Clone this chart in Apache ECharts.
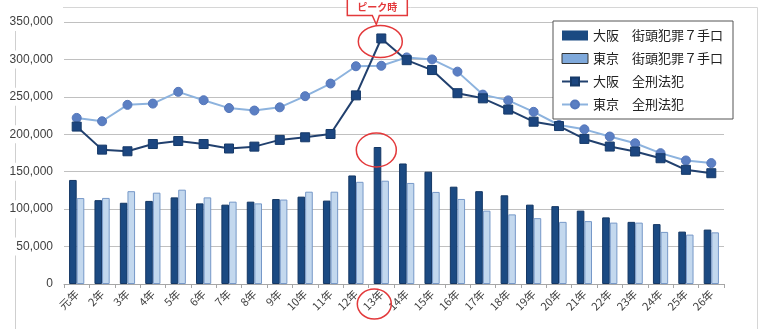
<!DOCTYPE html>
<html lang="ja">
<head>
<meta charset="utf-8">
<title>街頭犯罪７手口・全刑法犯 認知件数の推移</title>
<script src="https://cdn.jsdelivr.net/npm/echarts@6/dist/echarts.min.js"></script>
<style>
  html, body { margin: 0; padding: 0; background: #fff; }
  #chart { width: 765px; height: 329px; }
</style>
</head>
<body>
<div id="chart"></div>
<script>
// 平成 元年〜26年
const years = ['元年','2年','3年','4年','5年','6年','7年','8年','9年','10年','11年','12年','13年',
  '14年','15年','16年','17年','18年','19年','20年','21年','22年','23年','24年','25年','26年'];

// 街頭犯罪７手口（棒）
const osakaStreet = [139000,112000,108500,111000,115700,107700,106000,110000,113500,116700,111400,145000,183000,
  161000,150000,130000,124000,118500,106000,104000,98000,89000,83000,80000,70000,72700];
const tokyoStreet = [114800,115000,124000,122000,126000,115700,110000,107700,112800,123300,123300,136500,138000,
  135000,123000,113600,98000,93000,88000,83000,84000,82000,82000,69600,66000,69000];

// 全刑法犯（折れ線）
const osakaAll = [210300,179500,177300,187000,191000,187000,181000,183500,192500,196000,200400,252000,328000,
  299000,285800,254900,248000,233000,216800,211000,193800,183600,177000,168000,152500,148000];
const tokyoAll = [221900,217400,239300,241000,256700,245500,235000,231700,236000,250900,267800,290900,291500,
  302700,300000,283700,253000,245300,230000,212400,206600,197000,188000,174800,165000,161500];

const yTicks = { min: 0, max: 350000, step: 50000 };
const peakYear = '13年';
const peakText = 'ピーク時';

const seriesNames = ['大阪　街頭犯罪７手口', '東京　街頭犯罪７手口', '大阪　全刑法犯', '東京　全刑法犯'];

const cjk = '"Noto Sans CJK JP", "Noto Sans", sans-serif';
const withCommas = v => String(v).replace(/\B(?=(\d{3})+(?!\d))/g, ',');

const chart = echarts.init(document.getElementById('chart'), null, { renderer: 'canvas' });

chart.setOption({
  animation: false,
  backgroundColor: '#ffffff',
  grid: { left: 64, right: 41, top: 22, bottom: 45 },
  legend: {
    orient: 'vertical',
    left: 553,
    top: 21,
    padding: [8, 10, 8, 8],
    itemGap: 10,
    itemWidth: 26,
    itemHeight: 10,
    backgroundColor: '#ffffff',
    borderColor: '#555555',
    borderWidth: 1,
    textStyle: { fontFamily: cjk, fontSize: 13, color: '#222222' },
    data: [
      { name: seriesNames[0], icon: 'rect', itemStyle: { color: '#1b4a82', borderWidth: 0 } },
      { name: seriesNames[1], icon: 'rect', itemStyle: { color: '#7fa9db', borderColor: '#333333', borderWidth: 1 } },
      { name: seriesNames[2] },
      { name: seriesNames[3] }
    ]
  },
  xAxis: {
    type: 'category',
    data: years,
    boundaryGap: true,
    axisLine: { lineStyle: { color: '#a6a6a6', width: 1 } },
    axisTick: { show: true, length: 4, lineStyle: { color: '#a6a6a6' } },
    axisLabel: { rotate: 45, fontSize: 11, color: '#404040', margin: 8, fontFamily: cjk }
  },
  yAxis: {
    type: 'value',
    min: yTicks.min,
    max: yTicks.max,
    interval: yTicks.step,
    axisLine: { show: false },
    axisTick: { show: false },
    splitLine: { lineStyle: { color: '#c0c0c0', width: 1 } },
    axisLabel: {
      formatter: withCommas,
      fontSize: 12,
      color: '#404040',
      margin: 11,
      fontFamily: '"Liberation Sans", Arial, sans-serif',
      backgroundColor: '#ffffff',
      padding: [3, 0, 3, 4]
    }
  },
  series: [
    {
      name: seriesNames[0], type: 'bar', data: osakaStreet,
      barGap: '0%', barCategoryGap: '40%',
      itemStyle: { color: '#1b4a82', borderColor: '#143764', borderWidth: 1 }
    },
    {
      name: seriesNames[1], type: 'bar', data: tokyoStreet,
      barGap: '0%', barCategoryGap: '40%',
      itemStyle: { color: '#c3d8ee', borderColor: '#7698c8', borderWidth: 1 }
    },
    {
      name: seriesNames[2], type: 'line', data: osakaAll,
      symbol: 'rect', symbolSize: 9,
      lineStyle: { color: '#21406e', width: 2 },
      itemStyle: { color: '#1c4680', borderColor: '#163a69', borderWidth: 1 },
      z: 4
    },
    {
      name: seriesNames[3], type: 'line', data: tokyoAll,
      symbol: 'circle', symbolSize: 9,
      lineStyle: { color: '#8db3de', width: 2 },
      itemStyle: { color: '#5b7fc3', borderColor: '#5577bb', borderWidth: 1 },
      z: 3
    }
  ]
});

// 枠線とピーク時の注記
const peakIdx = years.indexOf(peakYear);
const pLine = chart.convertToPixel({ xAxisIndex: 0, yAxisIndex: 0 }, [peakYear, osakaAll[peakIdx]]);
const pBar = chart.convertToPixel({ xAxisIndex: 0, yAxisIndex: 0 }, [peakYear, osakaStreet[peakIdx]]);
const pZero = chart.convertToPixel({ xAxisIndex: 0, yAxisIndex: 0 }, [peakYear, 0]);
const red = '#e3393b';
const cx = pLine[0];
const boxTop = -3, boxBottom = pLine[1] - 23, tipY = pLine[1] - 14;

chart.setOption({
  graphic: [
    {
      type: 'polyline', z: -10, silent: true,
      shape: { points: [[15.5, 14], [15.5, 329]] },
      style: { stroke: '#cfcfcf', lineWidth: 1, fill: null }
    },
    {
      type: 'polyline', z: -10, silent: true,
      shape: { points: [[63, 7.5], [757.5, 7.5], [757.5, 329]] },
      style: { stroke: '#d6d6d6', lineWidth: 1, fill: null }
    },
    {
      type: 'polygon', z: 20, silent: true,
      shape: { points: [
        [cx - 34, boxTop], [cx + 26, boxTop], [cx + 26, boxBottom],
        [cx - 2, boxBottom], [cx - 5, tipY], [cx - 9, boxBottom], [cx - 34, boxBottom]
      ] },
      style: { fill: '#ffffff', stroke: red, lineWidth: 1.5 }
    },
    {
      type: 'text', z: 21, silent: true,
      x: cx - 4, y: (boxTop + boxBottom) / 2 + 1,
      style: {
        text: peakText, fill: red, fontSize: 10, fontWeight: 'bold', fontFamily: cjk,
        align: 'center', verticalAlign: 'middle'
      }
    },
    {
      type: 'ellipse', z: 20, silent: true,
      shape: { cx: cx - 1, cy: pLine[1] + 3, rx: 22, ry: 16 },
      style: { fill: null, stroke: red, lineWidth: 1.5 }
    },
    {
      type: 'ellipse', z: 20, silent: true,
      shape: { cx: pBar[0] - 5, cy: pBar[1] + 3, rx: 20, ry: 17 },
      style: { fill: null, stroke: red, lineWidth: 1.5 }
    },
    {
      type: 'ellipse', z: 20, silent: true,
      shape: { cx: cx - 7, cy: pZero[1] + 20, rx: 17, ry: 15 },
      style: { fill: null, stroke: red, lineWidth: 1.5 }
    }
  ]
});
</script>
</body>
</html>
